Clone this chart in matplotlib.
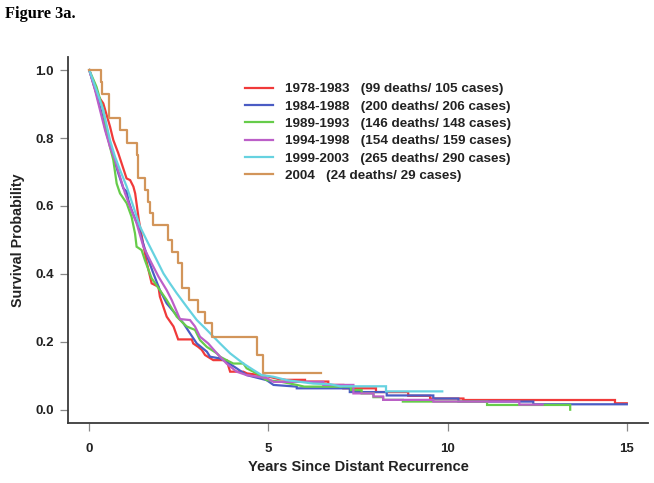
import matplotlib
matplotlib.use("Agg")
import matplotlib.pyplot as plt

# ---------------- data ----------------
labels = [
    "1978-1983   (99 deaths/ 105 cases)",
    "1984-1988   (200 deaths/ 206 cases)",
    "1989-1993   (146 deaths/ 148 cases)",
    "1994-1998   (154 deaths/ 159 cases)",
    "1999-2003   (265 deaths/ 290 cases)",
    "2004   (24 deaths/ 29 cases)",
]

t_7883 = [0, 0.2, 0.39, 0.58, 0.67, 0.81, 1.04, 1.14, 1.23, 1.28, 1.38, 1.5, 1.6, 1.74, 1.93, 1.97,
          2.16, 2.35, 2.48, 2.86, 2.9, 3.04, 3.14, 3.23, 3.46, 3.83, 3.93, 4.3, 4.4, 4.9, 5.3, 5.5,
          6.02, 6.02, 6.67, 6.67, 7.09, 7.09, 8.0, 8.0, 8.9, 8.9, 9.51, 9.51, 10.44, 10.44, 14.67, 14.67, 15.0]
s_7883 = [1.0, 0.931, 0.902, 0.833, 0.794, 0.755, 0.681, 0.676, 0.657, 0.637, 0.56, 0.49, 0.435, 0.372, 0.362, 0.333,
          0.274, 0.245, 0.207, 0.207, 0.195, 0.185, 0.176, 0.161, 0.146, 0.146, 0.112, 0.112, 0.107, 0.1, 0.09, 0.088,
          0.088, 0.083, 0.083, 0.073, 0.073, 0.063, 0.063, 0.052, 0.052, 0.041, 0.041, 0.033, 0.033, 0.0286, 0.0286, 0.019, 0.019]

t_8488 = [0, 0.2, 0.344, 0.48, 0.67, 0.81, 0.95, 1.043, 1.09, 1.18, 1.37, 1.5, 1.65, 1.79, 1.97, 2.16,
          2.39, 2.63, 2.81, 3.0, 3.28, 3.37, 3.65, 3.83, 4.11, 4.39, 4.95, 5.14,
          5.79, 5.79, 7.27, 7.27, 8.3, 8.3, 9.6, 9.6, 10.3, 10.3, 12.39, 12.39, 15.0]
s_8488 = [1.0, 0.931, 0.872, 0.813, 0.745, 0.696, 0.652, 0.642, 0.617, 0.588, 0.539, 0.49, 0.441, 0.401, 0.352, 0.313,
          0.284, 0.254, 0.225, 0.195, 0.171, 0.156, 0.151, 0.141, 0.122, 0.102, 0.087, 0.073,
          0.068, 0.063, 0.063, 0.052, 0.052, 0.042, 0.042, 0.033, 0.033, 0.024, 0.024, 0.016, 0.016]

t_8993 = [0, 0.2, 0.39, 0.48, 0.577, 0.67, 0.764, 0.857, 1.043, 1.18, 1.276, 1.32, 1.46, 1.55, 1.69, 1.74,
          1.97, 2.16, 2.44, 2.63, 2.72, 2.95, 3.09, 3.28, 3.56, 3.65, 3.83, 4.02, 4.3, 4.39, 4.67, 4.95,
          5.32, 5.79, 6.0, 7.3, 7.3, 7.6, 7.6, 7.93, 7.93, 8.2, 8.2, 8.75, 8.75, 11.1, 11.1, 13.42, 13.42]
s_8993 = [1.0, 0.951, 0.882, 0.823, 0.774, 0.735, 0.666, 0.637, 0.608, 0.568, 0.519, 0.48, 0.47, 0.441, 0.401, 0.387,
          0.352, 0.323, 0.274, 0.254, 0.245, 0.235, 0.205, 0.185, 0.166, 0.156, 0.146, 0.136, 0.136, 0.122, 0.107, 0.087,
          0.083, 0.073, 0.068, 0.068, 0.058, 0.058, 0.048, 0.048, 0.037, 0.037, 0.029, 0.029, 0.024, 0.024, 0.014, 0.014, 0.0]

t_9498 = [0, 0.16, 0.30, 0.44, 0.577, 0.717, 0.857, 0.997, 1.136, 1.32, 1.51, 1.65, 1.74, 1.93, 2.16, 2.30,
          2.44, 2.53, 2.81, 2.95, 3.09, 3.32, 3.56, 3.83, 4.11, 4.39, 4.95, 5.14, 6.53, 6.53,
          7.37, 7.37, 7.93, 7.93, 8.2, 8.2, 9.6, 9.6, 12.0, 12.0, 12.65]
s_9498 = [1.0, 0.941, 0.882, 0.823, 0.774, 0.735, 0.686, 0.637, 0.598, 0.549, 0.48, 0.45, 0.431, 0.392, 0.352, 0.323,
          0.289, 0.267, 0.264, 0.245, 0.215, 0.195, 0.166, 0.136, 0.112, 0.102, 0.093, 0.082, 0.082, 0.073,
          0.073, 0.048, 0.048, 0.039, 0.039, 0.029, 0.029, 0.024, 0.024, 0.015, 0.015]

t_9903 = [0, 0.2, 0.39, 0.577, 0.717, 0.857, 1.043, 1.23, 1.416, 1.62, 1.88, 2.07, 2.25, 2.44, 2.72,
          3.0, 3.28, 3.65, 3.93, 4.3, 4.58, 4.81, 5.14, 5.51, 6.25, 6.72, 7.0, 8.28, 8.28, 9.85]
s_9903 = [1.0, 0.941, 0.882, 0.794, 0.745, 0.706, 0.657, 0.598, 0.539, 0.495, 0.441, 0.401, 0.372, 0.343, 0.303,
          0.264, 0.235, 0.195, 0.166, 0.136, 0.117, 0.102, 0.097, 0.087, 0.077, 0.075, 0.069, 0.069, 0.054, 0.054]

# 2004 cohort: step values (drawn as post-steps)
t_2004 = [0, 0.33, 0.36, 0.55, 0.86, 1.04, 1.32, 1.37, 1.56, 1.65, 1.69, 1.79, 2.2, 2.3, 2.48, 2.58,
          2.77, 3.04, 3.23, 3.42, 4.67, 4.86, 6.46]
s_2004 = [1.0, 0.966, 0.931, 0.859, 0.823, 0.784, 0.75, 0.681, 0.647, 0.612, 0.578, 0.543, 0.5, 0.465, 0.431, 0.357,
          0.323, 0.289, 0.254, 0.215, 0.161, 0.107, 0.107]

colors = ["#F03A3A", "#4A5CC4", "#66CC4A", "#BC5FC8", "#66D2E0", "#D2955A"]

x_ticks = [0, 5, 10, 15]
y_ticks = [0.0, 0.2, 0.4, 0.6, 0.8, 1.0]

# ---------------- figure ----------------
fig = plt.figure(figsize=(6.54, 4.83), dpi=100)
ax = fig.add_axes([0.1035, 0.1236, 0.8878, 0.7594])

series = [(t_7883, s_7883), (t_8488, s_8488), (t_8993, s_8993),
          (t_9498, s_9498), (t_9903, s_9903)]
for (t, s), c, lab in zip(series, colors[:5], labels[:5]):
    ax.plot(t, s, color=c, lw=1.6, label=lab, solid_joinstyle="miter")
ax.plot(t_2004, s_2004, color=colors[5], lw=1.6, drawstyle="steps-post", label=labels[5])

ax.set_xlim(-0.603, 15.60)
ax.set_ylim(-0.040, 1.040)

for side in ["top", "right"]:
    ax.spines[side].set_visible(False)
for side in ["left", "bottom"]:
    ax.spines[side].set_color("#3a3a3a")
    ax.spines[side].set_linewidth(1.3)

lab_font = dict(family="Liberation Sans", weight="bold")
ax.set_xticks(x_ticks)
ax.set_xticklabels([str(v) for v in x_ticks], fontsize=9.5, **lab_font)
ax.set_yticks(y_ticks)
ax.set_yticklabels([f"{v:.1f}" for v in y_ticks], fontsize=9.5, **lab_font)
ax.tick_params(axis="both", direction="out", length=6, width=0.9, color="#888888",
               labelcolor="#222222")
ax.tick_params(axis="x", pad=8)
ax.tick_params(axis="y", pad=4)

ax.set_xlabel("Years Since Distant Recurrence", fontsize=10.5, labelpad=4, color="#222222", **lab_font)
ax.set_ylabel("Survival Probability", fontsize=10.3, labelpad=7, color="#222222", **lab_font)

leg = ax.legend(loc="upper left", bbox_to_anchor=(245 / 654, 1 - 83 / 483),
                bbox_transform=fig.transFigure, frameon=False,
                prop=dict(family="Liberation Sans", weight="bold", size=9.7),
                handlelength=2.05, handletextpad=0.9, labelspacing=0.36,
                borderpad=0, borderaxespad=0)
for txt in leg.get_texts():
    txt.set_color("#222222")

fig.text(5 / 654, 1 - 14 / 483, "Figure 3a.", family="Liberation Serif", weight="bold",
         fontsize=11.8, va="center", ha="left")

fig.savefig("out.png", dpi=100)
